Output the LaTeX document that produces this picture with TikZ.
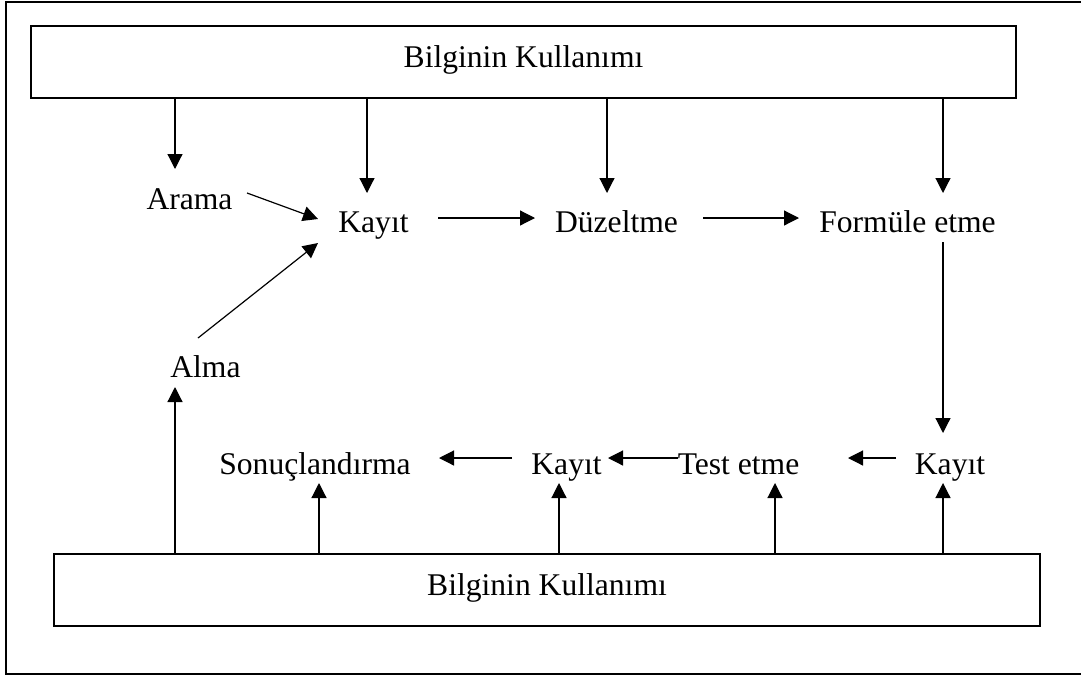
\documentclass[tikz,border=0pt]{standalone}
\usepackage{fontspec}
\setmainfont{Liberation Serif}
\usetikzlibrary{arrows.meta}
\begin{document}
\begin{tikzpicture}[x=1pt,y=-1pt,
  every node/.style={font=\fontsize{31.6}{38}\selectfont, inner sep=0pt},
  label/.style={anchor=base},
  bigbox/.style={draw, line width=1.4pt, minimum width=985pt, minimum height=72pt,
                 text height=20pt, text depth=10pt},
  arr/.style={line width=1.2pt, -{Triangle[length=15pt,width=15pt]}}]
  \useasboundingbox (0,0) rectangle (1081,675);
  % outer frame (open on the right)
  \draw[line width=1.6pt] (1085,2) -- (6,2) -- (6,674) -- (1085,674);

  % the two information-use boxes
  \node[bigbox] (top) at (523.5,62) {Bilginin Kullanımı};
  \node[bigbox, minimum width=986pt] (bottom) at (547,590) {Bilginin Kullanımı};

  % process steps
  \node[label] (arama)  at (189.5,209) {Arama};
  \node[label] (kayit1) at (373.5,232) {Kayıt};
  \node[label] (duz)    at (616.5,232) {Düzeltme};
  \node[label] (form)   at (907.5,232) {Formüle etme};
  \node[label] (alma)   at (205.5,377) {Alma};
  \node[label] (sonuc)  at (315,474)   {Sonuçlandırma};
  \node[label] (kayit3) at (566.5,474) {Kayıt};
  \node[label] (test)   at (738.5,474) {Test etme};
  \node[label] (kayit4) at (950,474)   {Kayıt};

  % arrow end points around the step labels
  \coordinate (arama-in)   at ([shift={(-14.5,-40)}]arama.base);
  \coordinate (arama-out)  at ([shift={(57.5,-16)}]arama.base);
  \coordinate (k1-top)     at ([shift={(-6.5,-39)}]kayit1.base);
  \coordinate (k1-ul)      at ([shift={(-55.5,-13)}]kayit1.base);
  \coordinate (k1-ll)      at ([shift={(-55.5,11)}]kayit1.base);
  \coordinate (k1-out)     at ([shift={(64.5,-14)}]kayit1.base);
  \coordinate (duz-top)    at ([shift={(-9.5,-39)}]duz.base);
  \coordinate (duz-in)     at ([shift={(-81.5,-14)}]duz.base);
  \coordinate (duz-out)    at ([shift={(86.5,-14)}]duz.base);
  \coordinate (form-top)   at ([shift={(35.5,-39)}]form.base);
  \coordinate (form-in)    at ([shift={(-108.5,-14)}]form.base);
  \coordinate (form-out)   at ([shift={(35.5,10)}]form.base);
  \coordinate (alma-out)   at ([shift={(-7.5,-39)}]alma.base);
  \coordinate (alma-in)    at ([shift={(-30.5,10)}]alma.base);
  \coordinate (sonuc-in)   at ([shift={(124,-16)}]sonuc.base);
  \coordinate (sonuc-bot)  at ([shift={(4,9)}]sonuc.base);
  \coordinate (k3-in)      at ([shift={(41.5,-16)}]kayit3.base);
  \coordinate (k3-out)     at ([shift={(-54.5,-16)}]kayit3.base);
  \coordinate (k3-bot)     at ([shift={(-7.5,9)}]kayit3.base);
  \coordinate (test-in)    at ([shift={(109.5,-16)}]test.base);
  \coordinate (test-out)   at ([shift={(-60.5,-16)}]test.base);
  \coordinate (test-bot)   at ([shift={(36.5,9)}]test.base);
  \coordinate (k4-top)     at ([shift={(-7,-41)}]kayit4.base);
  \coordinate (k4-out)     at ([shift={(-54,-16)}]kayit4.base);
  \coordinate (k4-bot)     at ([shift={(-7,9)}]kayit4.base);

  % from the top box down to the steps
  \draw[arr] (top.south -| arama-in) -- (arama-in);
  \draw[arr] (top.south -| k1-top) -- (k1-top);
  \draw[arr] (top.south -| duz-top) -- (duz-top);
  \draw[arr] (top.south -| form-top) -- (form-top);

  % upper chain
  \draw[arr] (arama-out) -- (k1-ul);
  \draw[arr] (alma-out) -- (k1-ll);
  \draw[arr] (k1-out) -- (duz-in);
  \draw[arr] (duz-out) -- (form-in);
  \draw[arr] (form-out) -- (k4-top);

  % lower chain
  \draw[arr] (k4-out) -- (test-in);
  \draw[arr] (test-out) -- (k3-in);
  \draw[arr] (k3-out) -- (sonuc-in);

  % from the bottom box up to the steps
  \draw[arr] (bottom.north -| alma-in) -- (alma-in);
  \draw[arr] (bottom.north -| sonuc-bot) -- (sonuc-bot);
  \draw[arr] (bottom.north -| k3-bot) -- (k3-bot);
  \draw[arr] (bottom.north -| test-bot) -- (test-bot);
  \draw[arr] (bottom.north -| k4-bot) -- (k4-bot);
\end{tikzpicture}
\end{document}
